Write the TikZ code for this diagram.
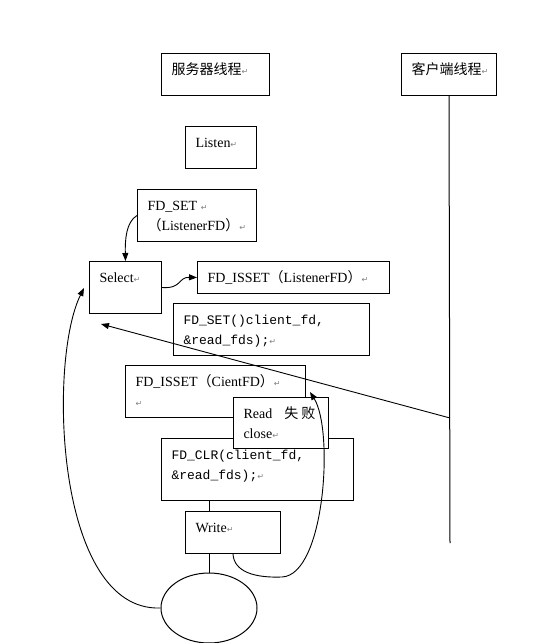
\documentclass[tikz,border=0pt]{standalone}
\usepackage{fontspec}
\setmainfont{Liberation Serif}
\newfontfamily\cjk{Noto Sans CJK SC}
\newfontfamily\codefont{Liberation Mono}
\newfontfamily\symfont{DejaVu Sans}
\usetikzlibrary{shapes.geometric,arrows.meta}

% paragraph mark and top-aligned box text
\newcommand{\retmark}{{\symfont\fontsize{8}{8}\selectfont\color{gray}↵}}
\newcommand{\boxtxt}[3]{\parbox[t][#2pt][t]{#1pt}{\rule{0pt}{21pt}#3}}
\newcommand{\code}{\codefont\fontsize{13}{20}\selectfont}

\tikzset{
  stepbox/.style={draw, line width=1pt, anchor=north west, inner xsep=10pt,
    inner ysep=0pt, font=\fontsize{14}{20}\selectfont},
  arr/.style={line width=0.9pt, -{Triangle[length=8pt,width=6pt]}},
  link/.style={line width=1pt},
}

\begin{document}
\begin{tikzpicture}[x=1pt,y=-1pt]
  \useasboundingbox (0,0) rectangle (537,643);

  \node[stepbox] at (161,53) (server) {\boxtxt{88}{42}{\cjk 服务器线程\retmark}};
  \node[stepbox] at (401,53) (client) {\boxtxt{75}{42}{\cjk 客户端线程\retmark}};
  \node[stepbox] at (185,126) (listen) {\boxtxt{51}{42}{Listen\retmark}};
  \node[stepbox] at (137,189) (fdset) {\boxtxt{99}{52}{FD\_SET \retmark\\{\cjk （}ListenerFD{\cjk ）}\retmark}};
  \node[stepbox] at (89,261) (select) {\boxtxt{52}{52}{Select\retmark}};
  \node[stepbox] at (197,261) (isset1) {\boxtxt{172}{32}{FD\_ISSET{\cjk （}ListenerFD{\cjk ）}\retmark}};
  \node[stepbox] at (173,303) (fdset2) {\boxtxt{176}{52}{\code FD\_SET()client\_fd,\\\&read\_fds);\retmark}};
  \node[stepbox] at (125,365) (isset2) {\boxtxt{160}{52}{FD\_ISSET{\cjk （}CientFD{\cjk ）}\retmark\\\retmark}};
  \node[stepbox] at (161,438) (fdclr) {\boxtxt{172}{62}{\code FD\_CLR(client\_fd,\\\&read\_fds);\retmark}};
  \node[stepbox, fill=white] at (233,397) (readfail) {\boxtxt{75}{51}{Read\hspace{12pt}{\cjk 失\hspace{3pt}败}\\close\retmark}};
  \node[stepbox] at (185,511) (write) {\boxtxt{75}{42}{Write\retmark}};
  \node[draw, ellipse, line width=1pt, minimum width=96pt, minimum height=70pt,
    inner sep=0pt] at (209,608) (loop) {};

  \coordinate (cend) at (450,543);
  \coordinate (cfail) at (450,418);
  \coordinate (sback) at (101,324);
  \coordinate (stop) at (84,288);
  \coordinate (rtip) at (310,392);
  \coordinate (rlow) at (282,577);

  % client thread
  \draw[link] (client.south) -- (cend);
  \draw[arr] (cfail) -- (sback);

  % server thread
  \draw[arr] (fdset.west) .. controls (126,222) and (125,240) .. (select.north);
  \draw[arr] (select.east) .. controls (182,289) and (178,277) .. (isset1.west);
  \draw[link] (loop.north |- fdclr.south) -- (loop.north |- write.north);
  \draw[link] (loop.north |- write.south) -- (loop.north);
  \draw[arr] (loop.west) .. controls (55,612) and (48,360) .. (stop);
  \draw[arr] (write.south) .. controls (234,572) and (255,578) .. (rlow)
    .. controls (325,575) and (334,430) .. (rtip);
\end{tikzpicture}
\end{document}
